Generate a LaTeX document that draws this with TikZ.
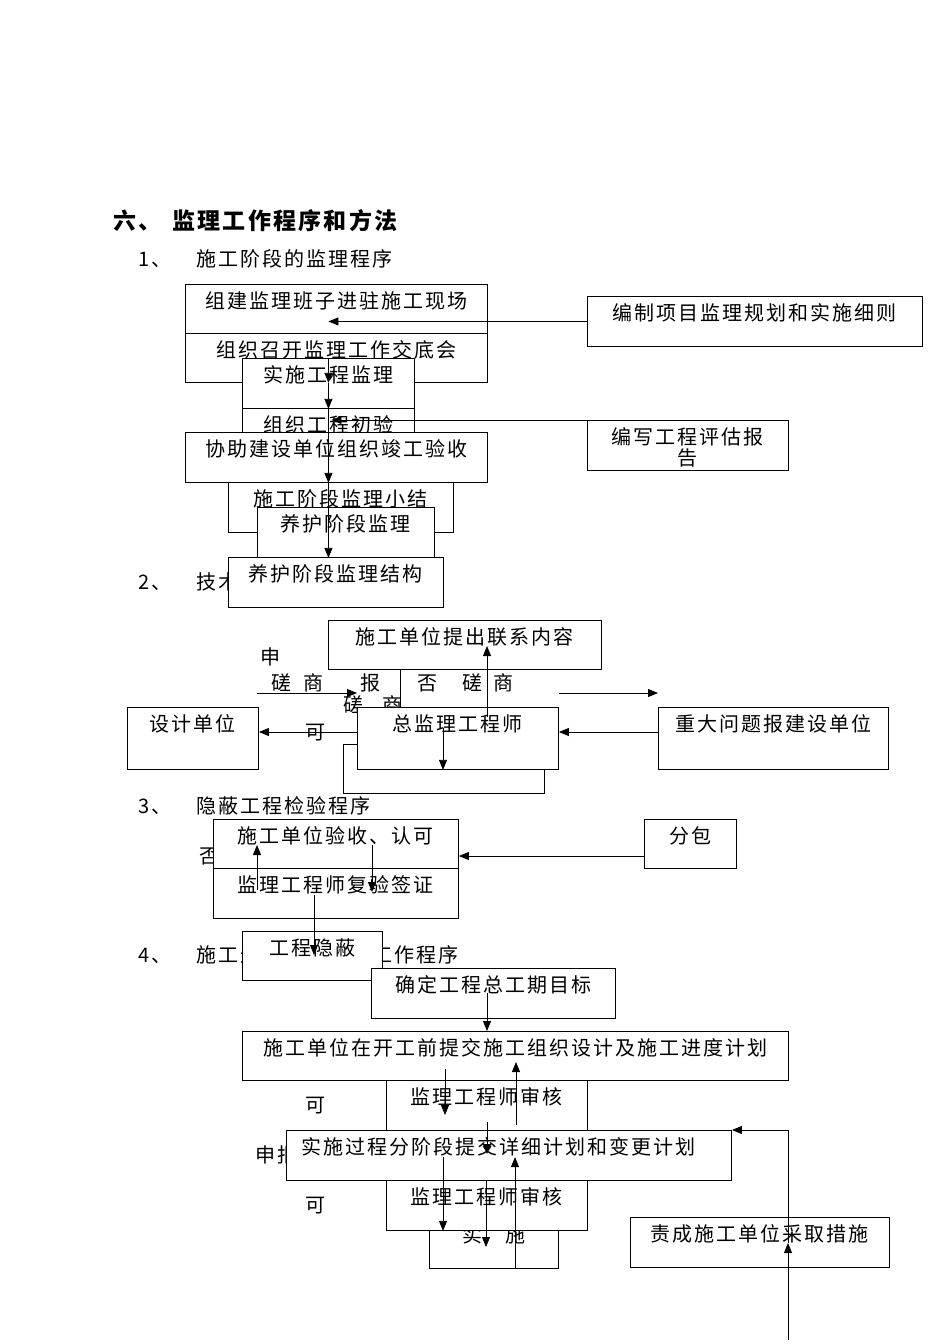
\documentclass[tikz,border=0pt]{standalone}
\usepackage{fontspec}
\setmainfont{Noto Sans CJK SC}[LetterSpace=10]
\usepackage{tikz}
\usetikzlibrary{positioning}
\usetikzlibrary{arrows.meta}
\pgfkeys{tikz/flowbox/.style={draw,fill=white,line width=0.9pt,anchor=north west,inner sep=0pt}}
\pgfkeys{tikz/flowtext/.style={inner sep=0pt,text height=17pt,text depth=3pt,font=\fontsize{20}{22}\selectfont}}
\pgfkeys{tikz/flowlabel/.style={flowtext,anchor=west}}
\pgfkeys{tikz/flowtitle/.style={flowlabel,font=\fontsize{23}{26}\selectfont\bfseries}}
\pgfkeys{tikz/flowarrow/.style={line width=0.8pt,-{Triangle[length=10pt,width=8pt]}}}
\pgfkeys{tikz/flowline/.style={line width=0.8pt}}
\newcommand*\flowbox[6][]{
\node[flowbox,minimum width=#4pt,minimum height=#5pt] (#2) at (#3) {};
\node[flowtext,below=7.5pt of #2.north,#1] (#2-t) {#6};
}

\begin{document}
\begin{tikzpicture}[x=1pt,y=-1pt]
\useasboundingbox (0,0) rectangle (950,1344);

	% headings
	\node[flowtitle] (title-n) at (113,222) {六、};
	\node[flowtitle] (title) at (172,222) {监理工作程序和方法};
	\node[flowlabel] (head-1-n) at (138,259) {1、};
	\node[flowlabel] (head-1) at (196,259) {施工阶段的监理程序};
	\node[flowlabel] (head-2-n) at (138,582) {2、};
	\node[flowlabel] (head-2) at (196,582) {技术核定程序};
	\node[flowlabel] (head-3-n) at (138,806) {3、};
	\node[flowlabel] (head-3) at (196,806) {隐蔽工程检验程序};
	\node[flowlabel] (head-4-n) at (138,955) {4、};
	\node[flowlabel] (head-4) at (196,955) {施工进度控制监理工作程序};

	% labels
	\node[flowlabel] (lab-shen) at (260,657) {申};
	\node[flowlabel] (lab-cs-1) at (271,683) {磋\hspace{12pt}商};
	\node[flowlabel] (lab-bao) at (360,683) {报};
	\node[flowlabel] (lab-fou) at (417,683) {否};
	\node[flowlabel] (lab-cs-2) at (462,683) {磋\hspace{11pt}商};
	\node[flowlabel] (lab-cs-3) at (343,705) {磋\hspace{19pt}商};
	\node[flowlabel] (lab-ke-1) at (305,732) {可};
	\node[flowlabel] (lab-fou-2) at (199,856) {否};
	\node[flowlabel] (lab-ke-2) at (305,1105) {可};
	\node[flowlabel] (lab-shenbao) at (255,1155) {申报};
	\node[flowlabel] (lab-ke-3) at (305,1205) {可};

	% 1
	\flowbox{zujian}{185,284}{302}{49}{组建监理班子进驻施工现场}
	\flowbox{jiaodi}{185,333}{302}{49}{组织召开监理工作交底会}
	\flowbox{shishi}{242,358}{172}{50}{实施工程监理}
	\flowbox{chuyan}{242,408}{172}{50}{组织工程初验}
	\flowbox{jungong}{185,432}{302}{50}{协助建设单位组织竣工验收}
	\flowbox{xiaojie}{228,482}{225}{50}{施工阶段监理小结}
	\flowbox{yanghu}{257,507}{177}{50}{养护阶段监理}
	\flowbox{jiegou}{228,557}{215}{50}{养护阶段监理结构}
	\flowbox{guihua}{587,296}{335}{50}{编制项目监理规划和实施细则}
	\flowbox{pinggu}{587,420}{201}{50}{编写工程评估报}
	\node[flowtext,below=0pt of pinggu-t] (pinggu-t2) {告};

	% 2
	\flowbox{lianxi}{328,620}{273}{49}{施工单位提出联系内容}
	\flowbox{sheji}{127,707}{131}{62}{设计单位}
	\flowbox{shishi2}{343,744}{201}{49}{}
	\flowbox{zongjian}{357,707}{201}{62}{总监理工程师}
	\flowbox{zhongda}{658,707}{230}{62}{重大问题报建设单位}

	% 3
	\flowbox{yanshou}{213,819}{245}{49}{施工单位验收、认可}
	\flowbox{qianzheng}{213,868}{245}{50}{监理工程师复验签证}
	\flowbox{fenbao}{644,819}{92}{49}{分包}
	\flowbox{yinbi}{242,931}{140}{49}{工程隐蔽}

	% 4
	\flowbox{gongqi}{371,968}{244}{50}{确定工程总工期目标}
	\flowbox{jihua}{242,1031}{546}{49}{施工单位在开工前提交施工组织设计及施工进度计划}
	\flowbox{shenhe}{386,1080}{201}{50}{监理工程师审核}
	\flowbox{shishi3}{429,1218}{129}{50}{实\hspace{23pt}施}
	\flowbox{shenhe2}{386,1180}{201}{50}{监理工程师审核}
	\flowbox[xshift=-10pt]{biangeng}{286,1130}{445}{50}{实施过程分阶段提交详细计划和变更计划}
	\flowbox{cuoshi}{630,1217}{259}{50}{责成施工单位采取措施}

	% arrows 1
	\draw[flowarrow] (shishi.north) -- (shishi.north |- jiaodi.south);
	\draw[flowarrow] (shishi.north |- jiaodi.south) -- (shishi.south);
	\draw[flowarrow] (shishi.south) -- (shishi.south |- jungong.south);
	\draw[flowarrow] (shishi.south |- jungong.south) -- (shishi.south |- yanghu.south);
	\draw[flowarrow] (guihua.west) -- (shishi.center |- guihua.west);
	\draw[flowarrow] (pinggu.north west) -- ([xshift=3pt]shishi.center |- pinggu.north west);

	% arrows 2
	\coordinate (xieshang-l) at (257,693);
	\coordinate (xieshang-r) at (658,693);
	\draw[flowarrow] (xieshang-l) -- (xieshang-l -| zongjian.west);
	\draw[flowarrow] (xieshang-r -| zongjian.east) -- (xieshang-r);
	\draw[flowline] ([xshift=72pt]lianxi.south west) -- ([xshift=72pt]lianxi.south west |- zongjian.north);
	\draw[flowarrow] ([xshift=130pt,yshift=-10pt]zongjian.north west) -- ([xshift=159pt,yshift=-26pt]lianxi.north west);
	\draw[flowarrow] ([xshift=86pt,yshift=-21pt]zongjian.north west) -- ([xshift=86pt]zongjian.south west);
	\draw[flowarrow] ([yshift=-25pt]zongjian.north west) -- ([yshift=-25pt]sheji.north east);
	\draw[flowarrow] ([yshift=-25pt]zhongda.north west) -- ([yshift=-25pt]zongjian.north east);

	% arrows 3
	\draw[flowarrow] ([yshift=-37pt]fenbao.north west) -- ([yshift=-37pt]yanshou.north east);
	\draw[flowarrow] ([xshift=44pt,yshift=-22pt]qianzheng.north west) -- ([xshift=44pt,yshift=-26pt]yanshou.north west);
	\draw[flowarrow] ([xshift=159pt,yshift=-26pt]yanshou.north west) -- ([xshift=159pt,yshift=-24pt]qianzheng.north west);
	\draw[flowarrow] ([xshift=101pt,yshift=-27pt]qianzheng.north west) -- ([xshift=72pt,yshift=-24pt]yinbi.north west);

	% arrows 4
	\draw[flowarrow] ([xshift=116pt,yshift=-25pt]gongqi.north west) -- ([xshift=116pt]gongqi.north west |- jihua.north);
	\draw[flowarrow] ([xshift=203pt,yshift=-38pt]jihua.north west) -- ([xshift=59pt,yshift=-35pt]shenhe.north west);
	\draw[flowarrow] ([xshift=130pt,yshift=-45pt]shenhe.north west) -- ([xshift=274pt,yshift=-31pt]jihua.north west);
	\draw[flowarrow] ([xshift=101pt,yshift=-42pt]shenhe.north west) -- ([xshift=201pt,yshift=-24pt]biangeng.north west);
	\draw[flowarrow] ([xshift=157pt,yshift=-27pt]biangeng.north west) -- ([xshift=57pt]shenhe2.south west);
	\draw[flowarrow] ([xshift=100pt]shenhe2.north west) -- ([xshift=57pt,yshift=-29pt]shishi3.north west);
	\draw[flowarrow] ([xshift=86pt]shishi3.south west) -- ([xshift=229pt,yshift=-27pt]biangeng.north west);
	\coordinate (cuoshi-in) at (788,1340);
	\draw[flowarrow] (cuoshi-in) -- ([xshift=158pt,yshift=-26pt]cuoshi.north west);
	\draw[flowarrow] ([xshift=158pt,yshift=-26pt]cuoshi.north west) -- ([xshift=158pt]cuoshi.north west |- biangeng.north east) -- (biangeng.north east);

\end{tikzpicture}
\end{document}
